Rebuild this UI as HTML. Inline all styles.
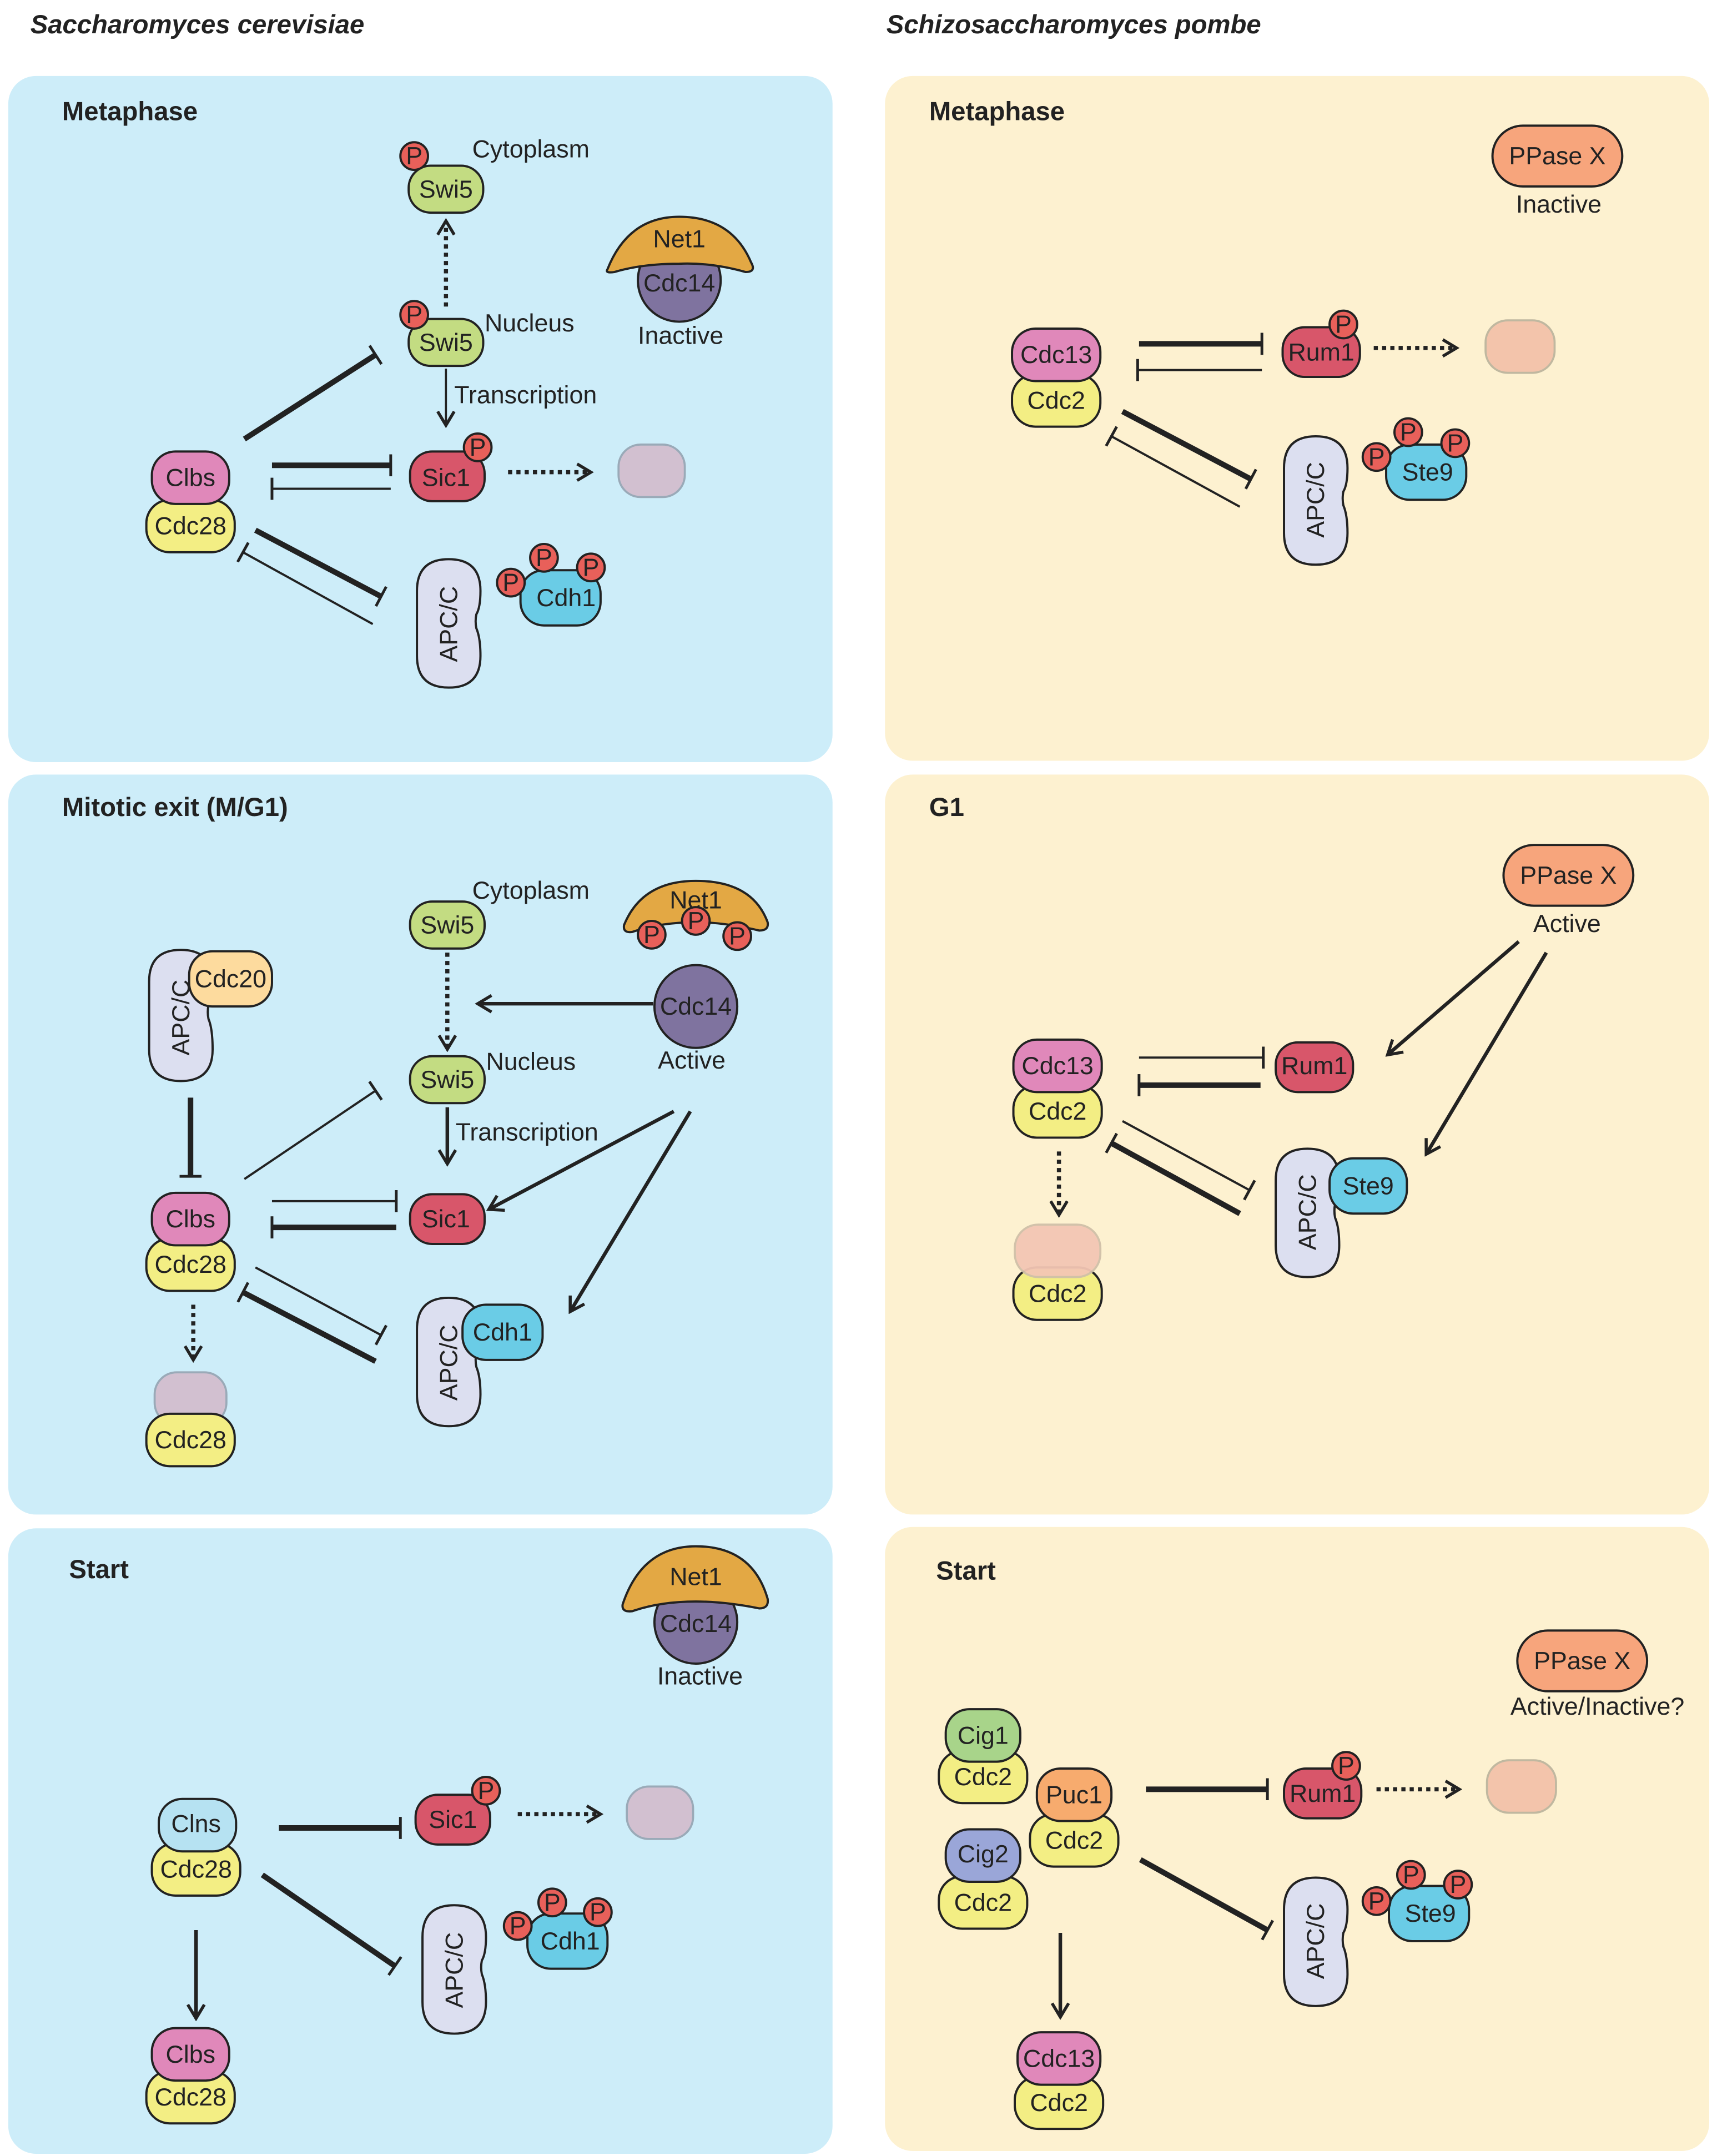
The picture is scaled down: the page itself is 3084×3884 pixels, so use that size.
<!DOCTYPE html>
<html><head><meta charset="utf-8"><style>html,body{margin:0;padding:0;background:#fff}svg{display:block}text{font-family:"Liberation Sans",sans-serif;fill:#222}</style></head><body>
<svg width="3084" height="3884" viewBox="0 0 1240 1561.6" xmlns="http://www.w3.org/2000/svg">
<defs>
<marker id="ar" viewBox="0 0 14 14" refX="12" refY="7" markerWidth="14" markerHeight="14" orient="auto" markerUnits="userSpaceOnUse"><path d="M2,1 L12,7 L2,13" fill="none" stroke="#222" stroke-width="2.2"/></marker>
<marker id="tb" viewBox="0 0 4 16" refX="2" refY="8" markerWidth="4" markerHeight="16" orient="auto" markerUnits="userSpaceOnUse"><line x1="2" y1="0" x2="2" y2="16" stroke="#222" stroke-width="2"/></marker>
</defs>
<style>
.b{stroke:#222;stroke-width:1.6}
.l{font-size:18px;text-anchor:middle;dominant-baseline:central}
.t{font-size:18px}
.h{font-size:19px;font-weight:bold}
.th{stroke:#222;stroke-width:4;fill:none}
.tn{stroke:#222;stroke-width:1.6;fill:none}
.ar{stroke:#222;stroke-width:2.6;fill:none}
.dt{stroke:#222;stroke-width:3;stroke-dasharray:3 3;fill:none}
</style>
<text x="22" y="24" class="h" font-style="italic">Saccharomyces cerevisiae</text>
<text x="642" y="24" class="h" font-style="italic">Schizosaccharomyces pombe</text>

<!-- panels -->
<g fill="#cdedf9"><rect x="6" y="55" width="597" height="497" rx="20"/><rect x="6" y="561" width="597" height="536" rx="20"/><rect x="6" y="1107" width="597" height="453" rx="20"/></g>
<g fill="#fdf1d0"><rect x="641" y="55" width="597" height="496" rx="20"/><rect x="641" y="561" width="597" height="536" rx="20"/><rect x="641" y="1106" width="597" height="452" rx="20"/></g>

<!-- ========== LEFT PANEL 1 ========== -->
<text x="45" y="87" class="h">Metaphase</text>
<rect class="b" x="296" y="120" width="54" height="34" rx="16" fill="#c3dc82"/><text x="323" y="137" class="l">Swi5</text>
<circle class="b" cx="300" cy="113" r="10" fill="#e8605a"/><text x="300" y="113" class="l">P</text>
<text x="342" y="114" class="t">Cytoplasm</text>
<line class="dt" x1="323" y1="222" x2="323" y2="160" marker-end="url(#ar)"/>
<rect class="b" x="296" y="231" width="54" height="34" rx="16" fill="#c3dc82"/><text x="323" y="248" class="l">Swi5</text>
<circle class="b" cx="300" cy="228" r="10" fill="#e8605a"/><text x="300" y="228" class="l">P</text>
<text x="351" y="240" class="t">Nucleus</text>
<circle class="b" cx="492" cy="203" r="30" fill="#7f739f"/>
<path class="b" d="M440,195 Q455,157 492,157 Q530,157 544,190 Q548,197 540,197 Q515,190 492,191 Q465,191 445,197 Q438,198 440,195Z" fill="#e3a844"/>
<text x="492" y="173" class="l">Net1</text><text x="492" y="205" class="l">Cdc14</text>
<text x="493" y="243" class="l">Inactive</text>
<line x1="323" y1="267" x2="323" y2="308" stroke="#222" stroke-width="1.5" marker-end="url(#ar)"/>
<text x="329" y="292" class="t">Transcription</text>
<rect class="b" x="297" y="327" width="54" height="36" rx="16" fill="#d8566a"/><text x="323" y="346" class="l">Sic1</text>
<circle class="b" cx="346" cy="324" r="10" fill="#e8605a"/><text x="346" y="324" class="l">P</text>
<line class="dt" x1="368" y1="342" x2="428" y2="342" marker-end="url(#ar)"/>
<rect x="448" y="322" width="48" height="38" rx="16" fill="#d2c0d0" stroke="#9aaab8" stroke-width="1.5"/>
<rect class="b" x="106" y="362" width="64" height="38" rx="17" fill="#f3ee84"/><text x="138" y="381" class="l">Cdc28</text>
<rect class="b" x="110" y="327" width="56" height="38" rx="17" fill="#e088ba"/><text x="138" y="346" class="l">Clbs</text>
<line class="th" x1="177" y1="318" x2="272" y2="257" marker-end="url(#tb)"/>
<line class="th" x1="197" y1="337" x2="283" y2="337" marker-end="url(#tb)"/>
<line class="tn" x1="283" y1="354" x2="197" y2="354" marker-end="url(#tb)"/>
<line class="th" x1="185" y1="384" x2="276" y2="432" marker-end="url(#tb)"/>
<line class="tn" x1="270" y1="452" x2="176" y2="400" marker-end="url(#tb)"/>
<path class="b" d="M302,428 Q302,405 325,405 Q348,405 348,428 Q348,440 345,445 Q344,450 345,455 Q348,462 348,475 Q348,498 325,498 Q302,498 302,475Z" fill="#dcdff0"/>
<text class="l" transform="translate(325,452) rotate(-90)">APC/C</text>
<rect class="b" x="377" y="413" width="58" height="40" rx="17" fill="#6acce6"/><text x="410" y="433" class="l">Cdh1</text>
<circle class="b" cx="370" cy="422" r="10" fill="#e8605a"/><text x="370" y="422" class="l">P</text>
<circle class="b" cx="394" cy="404" r="10" fill="#e8605a"/><text x="394" y="404" class="l">P</text>
<circle class="b" cx="428" cy="411" r="10" fill="#e8605a"/><text x="428" y="411" class="l">P</text>

<!-- ========== LEFT PANEL 2 ========== -->
<text x="45" y="591" class="h">Mitotic exit (M/G1)</text>
<rect class="b" x="297" y="653" width="54" height="34" rx="16" fill="#c3dc82"/><text x="324" y="670" class="l">Swi5</text>
<text x="342" y="651" class="t">Cytoplasm</text>
<path class="b" d="M452,670 Q465,638 504,638 Q545,638 556,668 Q557,674 550,674 Q525,668 504,668 Q478,668 458,675 Q451,676 452,670Z" fill="#e3a844"/>
<text x="504" y="652" class="l">Net1</text>
<circle class="b" cx="472" cy="677" r="10" fill="#e8605a"/><text x="472" y="677" class="l">P</text>
<circle class="b" cx="504" cy="667" r="10" fill="#e8605a"/><text x="504" y="667" class="l">P</text>
<circle class="b" cx="534" cy="678" r="10" fill="#e8605a"/><text x="534" y="678" class="l">P</text>
<circle class="b" cx="504" cy="729" r="30" fill="#7f739f"/><text x="504" y="729" class="l">Cdc14</text>
<text x="501" y="768" class="l">Active</text>
<line class="ar" x1="473" y1="727" x2="346" y2="727" marker-end="url(#ar)"/>
<line class="dt" x1="324" y1="690" x2="324" y2="760" marker-end="url(#ar)"/>
<rect class="b" x="297" y="765" width="54" height="34" rx="16" fill="#c3dc82"/><text x="324" y="782" class="l">Swi5</text>
<text x="352" y="775" class="t">Nucleus</text>
<line class="ar" x1="324" y1="802" x2="324" y2="843" marker-end="url(#ar)"/>
<text x="330" y="826" class="t">Transcription</text>
<path class="b" d="M108,711 Q108,688 131,688 Q154,688 154,711 Q154,722 151,728 Q150,733 151,738 Q154,745 154,760 Q154,783 131,783 Q108,783 108,760Z" fill="#dcdff0"/>
<text class="l" transform="translate(131,737) rotate(-90)">APC/C</text>
<rect class="b" x="137" y="689" width="60" height="40" rx="17" fill="#fddb9e"/><text x="167" y="709" class="l">Cdc20</text>
<line class="th" x1="138" y1="795" x2="138" y2="852" marker-end="url(#tb)"/>
<rect class="b" x="106" y="897" width="64" height="38" rx="17" fill="#f3ee84"/><text x="138" y="916" class="l">Cdc28</text>
<rect class="b" x="110" y="864" width="56" height="38" rx="17" fill="#e088ba"/><text x="138" y="883" class="l">Clbs</text>
<line class="tn" x1="177" y1="854" x2="272" y2="790" marker-end="url(#tb)"/>
<line class="tn" x1="197" y1="870" x2="287" y2="870" marker-end="url(#tb)"/>
<line class="th" x1="287" y1="889" x2="197" y2="889" marker-end="url(#tb)"/>
<line class="tn" x1="185" y1="918" x2="276" y2="967" marker-end="url(#tb)"/>
<line class="th" x1="272" y1="986" x2="176" y2="936" marker-end="url(#tb)"/>
<rect class="b" x="297" y="865" width="54" height="36" rx="16" fill="#d8566a"/><text x="323" y="883" class="l">Sic1</text>
<line class="ar" x1="488" y1="805" x2="354" y2="876" marker-end="url(#ar)"/>
<line class="ar" x1="500" y1="805" x2="413" y2="950" marker-end="url(#ar)"/>
<path class="b" d="M302,963 Q302,940 325,940 Q348,940 348,963 Q348,975 345,980 Q344,985 345,990 Q348,997 348,1010 Q348,1033 325,1033 Q302,1033 302,1010Z" fill="#dcdff0"/>
<text class="l" transform="translate(325,987) rotate(-90)">APC/C</text>
<rect class="b" x="335" y="945" width="58" height="40" rx="17" fill="#6acce6"/><text x="364" y="965" class="l">Cdh1</text>
<line class="dt" x1="140" y1="945" x2="140" y2="985" marker-end="url(#ar)"/>
<rect x="112" y="994" width="52" height="38" rx="16" fill="#d2c0d0" stroke="#9aaab8" stroke-width="1.5"/>
<rect class="b" x="106" y="1024" width="64" height="38" rx="17" fill="#f3ee84"/><text x="138" y="1043" class="l">Cdc28</text>

<!-- ========== LEFT PANEL 3 ========== -->
<text x="50" y="1143" class="h">Start</text>
<circle class="b" cx="504" cy="1175" r="30" fill="#7f739f"/>
<path class="b" d="M451,1162 Q465,1120 504,1120 Q545,1120 556,1158 Q557,1165 550,1165 Q525,1160 504,1160 Q478,1160 458,1167 Q450,1168 451,1162Z" fill="#e3a844"/>
<text x="504" y="1142" class="l">Net1</text><text x="504" y="1176" class="l">Cdc14</text>
<text x="507" y="1214" class="l">Inactive</text>
<rect class="b" x="110" y="1335" width="64" height="38" rx="17" fill="#f3ee84"/><text x="142" y="1354" class="l">Cdc28</text>
<rect class="b" x="115" y="1303" width="56" height="38" rx="17" fill="#b6e2f2"/><text x="142" y="1321" class="l">Clns</text>
<line class="th" x1="202" y1="1324" x2="290" y2="1324" marker-end="url(#tb)"/>
<rect class="b" x="301" y="1300" width="54" height="36" rx="16" fill="#d8566a"/><text x="328" y="1318" class="l">Sic1</text>
<circle class="b" cx="352" cy="1297" r="10" fill="#e8605a"/><text x="352" y="1297" class="l">P</text>
<line class="dt" x1="375" y1="1314" x2="435" y2="1314" marker-end="url(#ar)"/>
<rect x="454" y="1294" width="48" height="38" rx="16" fill="#d2c0d0" stroke="#9aaab8" stroke-width="1.5"/>
<line class="th" x1="190" y1="1358" x2="286" y2="1424" marker-end="url(#tb)"/>
<path class="b" d="M306,1403 Q306,1380 329,1380 Q352,1380 352,1403 Q352,1415 349,1420 Q348,1425 349,1430 Q352,1437 352,1450 Q352,1473 329,1473 Q306,1473 306,1450Z" fill="#dcdff0"/>
<text class="l" transform="translate(329,1427) rotate(-90)">APC/C</text>
<rect class="b" x="382" y="1386" width="58" height="40" rx="17" fill="#6acce6"/><text x="413" y="1406" class="l">Cdh1</text>
<circle class="b" cx="375" cy="1395" r="10" fill="#e8605a"/><text x="375" y="1395" class="l">P</text>
<circle class="b" cx="400" cy="1378" r="10" fill="#e8605a"/><text x="400" y="1378" class="l">P</text>
<circle class="b" cx="433" cy="1385" r="10" fill="#e8605a"/><text x="433" y="1385" class="l">P</text>
<line class="ar" x1="142" y1="1398" x2="142" y2="1462" marker-end="url(#ar)"/>
<rect class="b" x="106" y="1500" width="64" height="38" rx="17" fill="#f3ee84"/><text x="138" y="1519" class="l">Cdc28</text>
<rect class="b" x="110" y="1469" width="56" height="38" rx="17" fill="#e088ba"/><text x="138" y="1488" class="l">Clbs</text>

<!-- ========== RIGHT PANEL 1 ========== -->
<text x="673" y="87" class="h">Metaphase</text>
<rect class="b" x="1081" y="91" width="94" height="44" rx="22" fill="#f7a57c"/><text x="1128" y="113" class="l">PPase X</text>
<text x="1129" y="148" class="l">Inactive</text>
<rect class="b" x="733" y="271" width="64" height="38" rx="17" fill="#f3ee84"/><text x="765" y="290" class="l">Cdc2</text>
<rect class="b" x="733" y="238" width="64" height="38" rx="17" fill="#e088ba"/><text x="765" y="257" class="l">Cdc13</text>
<line class="th" x1="825" y1="249" x2="914" y2="249" marker-end="url(#tb)"/>
<line class="tn" x1="914" y1="268" x2="824" y2="268" marker-end="url(#tb)"/>
<rect class="b" x="929" y="237" width="56" height="36" rx="16" fill="#d8566a"/><text x="957" y="255" class="l">Rum1</text>
<circle class="b" cx="973" cy="235" r="10" fill="#e8605a"/><text x="973" y="235" class="l">P</text>
<line class="dt" x1="995" y1="252" x2="1055" y2="252" marker-end="url(#ar)"/>
<rect x="1076" y="232" width="50" height="38" rx="16" fill="#f3c4ab" stroke="#c0b8a0" stroke-width="1.5"/>
<line class="th" x1="813" y1="298" x2="906" y2="347" marker-end="url(#tb)"/>
<line class="tn" x1="898" y1="367" x2="805" y2="316" marker-end="url(#tb)"/>
<path class="b" d="M930,339 Q930,316 953,316 Q976,316 976,339 Q976,351 973,356 Q972,361 973,366 Q976,373 976,386 Q976,409 953,409 Q930,409 930,386Z" fill="#dcdff0"/>
<text class="l" transform="translate(953,362) rotate(-90)">APC/C</text>
<rect class="b" x="1004" y="322" width="58" height="40" rx="17" fill="#6acce6"/><text x="1034" y="342" class="l">Ste9</text>
<circle class="b" cx="997" cy="331" r="10" fill="#e8605a"/><text x="997" y="331" class="l">P</text>
<circle class="b" cx="1020" cy="313" r="10" fill="#e8605a"/><text x="1020" y="313" class="l">P</text>
<circle class="b" cx="1054" cy="321" r="10" fill="#e8605a"/><text x="1054" y="321" class="l">P</text>

<!-- ========== RIGHT PANEL 2 ========== -->
<text x="673" y="591" class="h">G1</text>
<rect class="b" x="1089" y="612" width="94" height="44" rx="22" fill="#f7a57c"/><text x="1136" y="634" class="l">PPase X</text>
<text x="1135" y="669" class="l">Active</text>
<line class="ar" x1="1100" y1="682" x2="1005" y2="764" marker-end="url(#ar)"/>
<line class="ar" x1="1120" y1="690" x2="1033" y2="836" marker-end="url(#ar)"/>
<rect class="b" x="734" y="786" width="64" height="38" rx="17" fill="#f3ee84"/><text x="766" y="805" class="l">Cdc2</text>
<rect class="b" x="734" y="753" width="64" height="38" rx="17" fill="#e088ba"/><text x="766" y="772" class="l">Cdc13</text>
<line class="tn" x1="825" y1="766" x2="915" y2="766" marker-end="url(#tb)"/>
<line class="th" x1="913" y1="786" x2="825" y2="786" marker-end="url(#tb)"/>
<rect class="b" x="924" y="755" width="56" height="36" rx="16" fill="#d8566a"/><text x="952" y="772" class="l">Rum1</text>
<line class="tn" x1="813" y1="812" x2="905" y2="862" marker-end="url(#tb)"/>
<line class="th" x1="898" y1="879" x2="805" y2="828" marker-end="url(#tb)"/>
<path class="b" d="M924,855 Q924,832 947,832 Q970,832 970,855 Q970,867 967,872 Q966,877 967,882 Q970,889 970,902 Q970,925 947,925 Q924,925 924,902Z" fill="#dcdff0"/>
<text class="l" transform="translate(947,878) rotate(-90)">APC/C</text>
<rect class="b" x="963" y="839" width="56" height="40" rx="17" fill="#6acce6"/><text x="991" y="859" class="l">Ste9</text>
<line class="dt" x1="767" y1="834" x2="767" y2="880" marker-end="url(#ar)"/>
<rect class="b" x="734" y="918" width="64" height="38" rx="17" fill="#f3ee84"/><text x="766" y="937" class="l">Cdc2</text>
<rect x="735" y="887" width="62" height="38" rx="17" fill="#f3c6b4" stroke="#d0c0a8" stroke-width="1.5" opacity="0.95"/>

<!-- ========== RIGHT PANEL 3 ========== -->
<text x="678" y="1144" class="h">Start</text>
<rect class="b" x="1099" y="1181" width="94" height="44" rx="22" fill="#f7a57c"/><text x="1146" y="1203" class="l">PPase X</text>
<text x="1157" y="1236" class="l">Active/Inactive?</text>
<rect class="b" x="680" y="1268" width="64" height="38" rx="17" fill="#f3ee84"/><text x="712" y="1287" class="l">Cdc2</text>
<rect class="b" x="685" y="1238" width="54" height="38" rx="17" fill="#a8d48a"/><text x="712" y="1257" class="l">Cig1</text>
<rect class="b" x="680" y="1359" width="64" height="38" rx="17" fill="#f3ee84"/><text x="712" y="1378" class="l">Cdc2</text>
<rect class="b" x="685" y="1325" width="54" height="38" rx="17" fill="#9aa6d8"/><text x="712" y="1343" class="l">Cig2</text>
<rect class="b" x="746" y="1314" width="64" height="38" rx="17" fill="#f3ee84"/><text x="778" y="1333" class="l">Cdc2</text>
<rect class="b" x="751" y="1281" width="54" height="38" rx="17" fill="#f7ab6e"/><text x="778" y="1300" class="l">Puc1</text>
<line class="th" x1="830" y1="1296" x2="918" y2="1296" marker-end="url(#tb)"/>
<rect class="b" x="930" y="1281" width="56" height="36" rx="16" fill="#d8566a"/><text x="958" y="1299" class="l">Rum1</text>
<circle class="b" cx="975" cy="1279" r="10" fill="#e8605a"/><text x="975" y="1279" class="l">P</text>
<line class="dt" x1="997" y1="1296" x2="1057" y2="1296" marker-end="url(#ar)"/>
<rect x="1077" y="1275" width="50" height="38" rx="16" fill="#f3c4ab" stroke="#c0b8a0" stroke-width="1.5"/>
<line class="th" x1="826" y1="1347" x2="918" y2="1398" marker-end="url(#tb)"/>
<path class="b" d="M930,1383 Q930,1360 953,1360 Q976,1360 976,1383 Q976,1395 973,1400 Q972,1405 973,1410 Q976,1417 976,1430 Q976,1453 953,1453 Q930,1453 930,1430Z" fill="#dcdff0"/>
<text class="l" transform="translate(953,1406) rotate(-90)">APC/C</text>
<rect class="b" x="1006" y="1366" width="58" height="40" rx="17" fill="#6acce6"/><text x="1036" y="1386" class="l">Ste9</text>
<circle class="b" cx="997" cy="1377" r="10" fill="#e8605a"/><text x="997" y="1377" class="l">P</text>
<circle class="b" cx="1022" cy="1358" r="10" fill="#e8605a"/><text x="1022" y="1358" class="l">P</text>
<circle class="b" cx="1056" cy="1365" r="10" fill="#e8605a"/><text x="1056" y="1365" class="l">P</text>
<line class="ar" x1="768" y1="1400" x2="768" y2="1461" marker-end="url(#ar)"/>
<rect class="b" x="735" y="1504" width="64" height="38" rx="17" fill="#f3ee84"/><text x="767" y="1523" class="l">Cdc2</text>
<rect class="b" x="737" y="1472" width="60" height="38" rx="17" fill="#e088ba"/><text x="767" y="1491" class="l">Cdc13</text>
</svg>
</body></html>
